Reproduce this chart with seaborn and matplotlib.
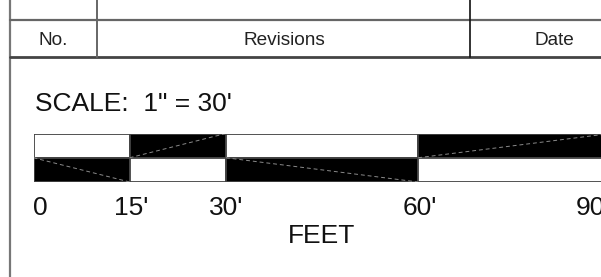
import matplotlib
matplotlib.use("Agg")
import matplotlib.pyplot as plt
import seaborn as sns

# ---------------------------------------------------------
# Data
# ---------------------------------------------------------

header_labels = ["No.", "Revisions", "Date"]
scale_text = "SCALE:  1\" = 30'"

# segment edges of the graphic scale, in feet
segment_edges = [0, 15, 30, 60, 90]
top_colors = ["white", "black", "white", "black"]
bottom_colors = ["black", "white", "black", "white"]

tick_feet = [1.0, 15.3, 30.0, 60.3, 87.3]
tick_labels = ["0", "15'", "30'", "60'", "90'"]
axis_label = "FEET"


# ---------------------------------------------------------
# Plot Style
# ---------------------------------------------------------

sns.set_style("white")
plt.rcParams["font.family"] = ["Liberation Sans", "DejaVu Sans"]

W, H = 601, 277
fig = plt.figure(figsize=(W / 100, H / 100), dpi=100)

# page axes in pixel units (title block lines and header text)
page = fig.add_axes([0, 0, 1, 1])
page.set_xlim(0, W)
page.set_ylim(H, 0)
page.axis("off")

page.plot([10, 10], [0, H], color="#777777", lw=1.6)
page.plot([10, W], [19.5, 19.5], color="#666666", lw=1.6)
page.plot([10, W], [57, 57], color="#444444", lw=2.0)
page.plot([97, 97], [0, 57], color="#666666", lw=1.4)
page.plot([470, 470], [0, 57], color="#111111", lw=1.2)

header_x = [53.5, 284, 554]
for x, label in zip(header_x, header_labels):
    page.text(x, 45, label, ha="center", va="baseline",
              fontsize=13.7, color="#222222")

page.text(35, 111, scale_text, ha="left", va="baseline",
          fontsize=19, color="#111111")


# ---------------------------------------------------------
# Graphic Scale
# ---------------------------------------------------------

bar_ax = fig.add_axes([33.5 / W, (H - 182) / H, 577 / W, 48.5 / H])

lefts = segment_edges[:-1]
widths = [b - a for a, b in zip(segment_edges[:-1], segment_edges[1:])]

bar_ax.barh([0.5] * len(lefts), widths, left=lefts, height=1.0,
            color=top_colors, edgecolor="#444444", linewidth=1.3)
bar_ax.barh([1.5] * len(lefts), widths, left=lefts, height=1.0,
            color=bottom_colors, edgecolor="#444444", linewidth=1.3)

# dashed diagonals through the black cells
for x0, x1, c in zip(segment_edges[:-1], segment_edges[1:], top_colors):
    if c == "black":
        bar_ax.plot([x0, x1], [1.0, 0.0], color="#8a8a8a", lw=0.7,
                    ls=(0, (4, 3)))
for x0, x1, c in zip(segment_edges[:-1], segment_edges[1:], bottom_colors):
    if c == "black":
        bar_ax.plot([x0, x1], [1.0, 2.0], color="#8a8a8a", lw=0.7,
                    ls=(0, (4, 3)))

bar_ax.set_xlim(segment_edges[0], segment_edges[-1])
bar_ax.set_ylim(2, 0)
bar_ax.set_yticks([])
bar_ax.set_xticks(tick_feet)
bar_ax.set_xticklabels(tick_labels, fontsize=19, color="#111111")
bar_ax.tick_params(axis="x", length=0, pad=10)
bar_ax.set_xlabel(axis_label, fontsize=19, color="#111111", labelpad=3)
sns.despine(ax=bar_ax, left=True, bottom=True)

fig.savefig("out.png", dpi=100)
